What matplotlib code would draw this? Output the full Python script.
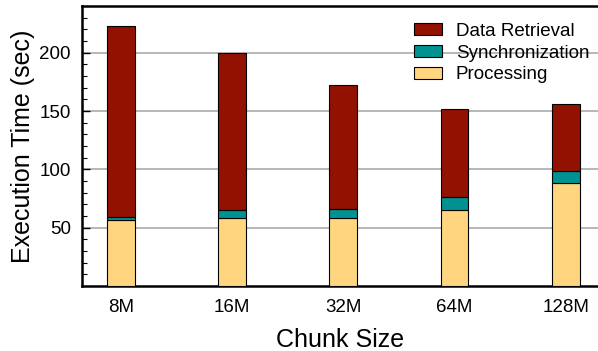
import matplotlib
matplotlib.use("Agg")
import matplotlib.pyplot as plt
import numpy as np
from matplotlib.ticker import MultipleLocator

categories = ["8M", "16M", "32M", "64M", "128M"]
processing = [56.5, 58, 58, 65, 88]
synchronization = [2.5, 7, 8, 11, 11]
data_retrieval = [164, 135, 106, 76, 57]

plt.rcParams['font.family'] = ['Liberation Sans', 'DejaVu Sans']

fig = plt.figure(figsize=(5.98, 3.51), dpi=100)
ax = fig.add_axes([0.137, 0.185, 0.863, 0.798])

x = np.arange(len(categories))
w = 0.25
c_proc = "#FFD580"
c_sync = "#009191"
c_data = "#921100"
ax.bar(x, processing, w, color=c_proc, edgecolor="black", linewidth=0.8, label="Processing", zorder=3)
b1 = np.array(processing)
ax.bar(x, synchronization, w, bottom=b1, color=c_sync, edgecolor="black", linewidth=0.8, label="Synchronization", zorder=3)
b2 = b1 + np.array(synchronization)
ax.bar(x, data_retrieval, w, bottom=b2, color=c_data, edgecolor="black", linewidth=0.8, label="Data Retrieval", zorder=3)

ax.set_xlim(-0.35, 4.29)
ax.set_ylim(0, 240)
ax.set_xticks(x)
ax.set_xticklabels(categories, fontsize=13.5)
ax.yaxis.set_major_locator(MultipleLocator(50))
ax.yaxis.set_minor_locator(MultipleLocator(10))
ax.set_yticks([50, 100, 150, 200])
ax.tick_params(axis='y', which='major', direction='in', length=6, width=1, labelsize=13.5, pad=8)
ax.tick_params(axis='y', which='minor', direction='in', length=3.5, width=0.8)
ax.tick_params(axis='x', length=0, labelsize=13.5, pad=9)
ax.grid(axis='y', which='major', color='#aaaaaa', linewidth=1.2, zorder=0)

for s in ['left', 'bottom', 'top']:
    ax.spines[s].set_linewidth(1.8)
ax.spines['right'].set_visible(False)

ax.set_xlabel("Chunk Size", fontsize=18, labelpad=9)
ax.set_ylabel("Execution Time (sec)", fontsize=18, labelpad=3)

h, l = ax.get_legend_handles_labels()
leg = ax.legend(h[::-1], l[::-1], loc='upper right', bbox_to_anchor=(1.005, 0.98), frameon=False,
                fontsize=13.5, handlelength=1.5, handleheight=0.6, labelspacing=0.25, handletextpad=0.75,
                borderaxespad=0.2)
leg.set_zorder(5)

fig.savefig("out.png", dpi=100)
